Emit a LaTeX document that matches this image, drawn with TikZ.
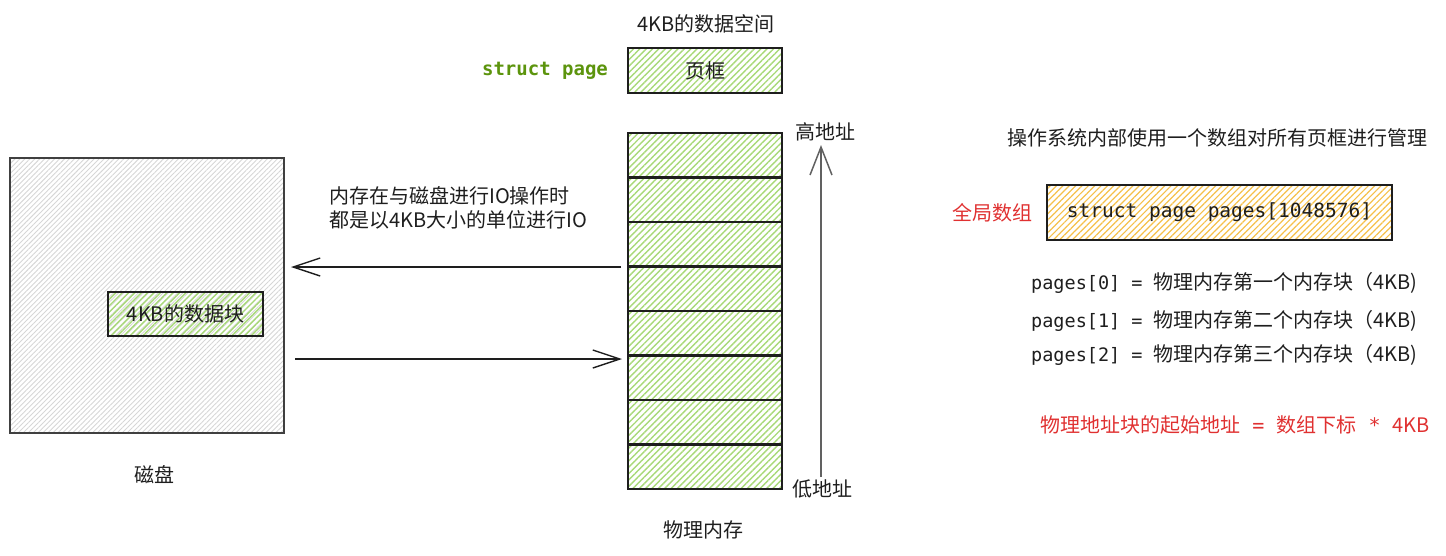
\documentclass[tikz,border=0pt]{standalone}
\usepackage{fontspec}
\setmainfont{Noto Sans CJK SC}
\setmonofont{DejaVu Sans Mono}
\usetikzlibrary{patterns.meta,arrows.meta}
\definecolor{hgreen}{HTML}{A8D978}
\definecolor{tgreen}{HTML}{5C940D}
\definecolor{tred}{HTML}{E03131}
\definecolor{hyellow}{HTML}{F5C04A}
\definecolor{hgray}{HTML}{D6D6D6}
\definecolor{edge}{HTML}{1E1E1E}
\begin{document}
\begin{tikzpicture}[x=1pt,y=-1pt,
  txt/.style={font=\fontsize{20pt}{24pt}\selectfont, inner sep=0pt, text=edge},
  greenbox/.style={draw=edge, line width=1.6pt, inner sep=0pt,
    pattern={Lines[angle=45,distance=4.5pt,line width=1.4pt]}, pattern color=hgreen,
    font=\fontsize{20pt}{24pt}\selectfont, text=edge},
  graybox/.style={draw=edge!85, line width=2pt, inner sep=0pt,
    pattern={Lines[angle=45,distance=3.5pt,line width=0.9pt]}, pattern color=hgray},
  yellowbox/.style={draw=edge, line width=1.8pt, inner sep=0pt,
    pattern={Lines[angle=45,distance=4.5pt,line width=1.2pt]}, pattern color=hyellow},
  memblk/.style={inner sep=0pt, minimum width=154pt, minimum height=44.5pt,
    pattern={Lines[angle=45,distance=4.5pt,line width=1.4pt]}, pattern color=hgreen},
  memedge/.style={draw=edge, line width=1.8pt},
  ioarr/.style={draw=edge, line width=1.4pt, -{Straight Barb[length=27pt,width=18pt,line width=1.4pt]}},
  uparr/.style={draw=edge!70, line width=2.2pt, -{Straight Barb[length=28pt,width=22pt,line width=1.5pt]}},
]
\useasboundingbox (0,0) rectangle (1446,555);

% top: page frame
\node[txt] (spacelbl) at (706,24) {4KB的数据空间};
\node[font=\ttfamily\bfseries\fontsize{19pt}{22pt}\selectfont, text=tgreen, inner sep=0pt] (sp) at (545,71) {struct page};
\node[greenbox, minimum width=154pt, minimum height=45pt] (frame) at (705,70.5) {页框};

% disk
\node[graybox, minimum width=274pt, minimum height=275pt] (disk) at (147,295.5) {};
\node[greenbox, minimum width=155pt, minimum height=44pt] (blk) at (185.5,314) {4KB的数据块};
\node[txt] (disklbl) at (154,475) {磁盘};

% memory blocks
\foreach \i in {1,...,8}{
  \node[memblk] (m\i) at (705,{133+44.5*(\i-0.5)}) {};
}
\foreach \i in {1,...,8}{
  \draw[memedge] (m\i.north west) rectangle (m\i.south east);
}
\node[txt] (memlbl) at (703,530) {物理内存};

% address arrow
\node[txt] (hi) at (825,132) {高地址};
\node[txt] (lo) at (822,489) {低地址};
\coordinate (up1) at (821,477);
\coordinate (up2) at (821,145);
\draw[uparr] (up1) -- (up2);

% IO arrows
\node[txt, anchor=west, align=left] (iotxt) at (329,208) {内存在与磁盘进行IO操作时\\都是以4KB大小的单位进行IO};
\coordinate (a1s) at (621,267);
\coordinate (a1e) at (291,267);
\coordinate (a2s) at (295,359);
\coordinate (a2e) at (622,359);
\draw[ioarr] (a1s) -- (a1e);
\draw[ioarr] (a2s) -- (a2e);

% right side
\node[txt] (ostxt) at (1217,138) {操作系统内部使用一个数组对所有页框进行管理};
\node[txt, text=tred] (glb) at (992,213) {全局数组};
\node[yellowbox, minimum width=345pt, minimum height=55pt, font=\ttfamily\fontsize{19.5pt}{22pt}\selectfont, text=edge] (arr) at (1219.5,212.5) {struct page pages[1048576]};

\node[txt, anchor=west] (p0) at (1031,283) {{\ttfamily\fontsize{18.5pt}{22pt}\selectfont pages[0] = }物理内存第一个内存块（4KB)};
\node[txt, anchor=west] (p1) at (1031,321) {{\ttfamily\fontsize{18.5pt}{22pt}\selectfont pages[1] = }物理内存第二个内存块（4KB)};
\node[txt, anchor=west] (p2) at (1031,355) {{\ttfamily\fontsize{18.5pt}{22pt}\selectfont pages[2] = }物理内存第三个内存块（4KB)};

\node[txt, text=tred, anchor=east] (formula) at (1430,425) {物理地址块的起始地址{\ttfamily\ =\ }数组下标{\ttfamily\ *\ }4KB};
\end{tikzpicture}
\end{document}
